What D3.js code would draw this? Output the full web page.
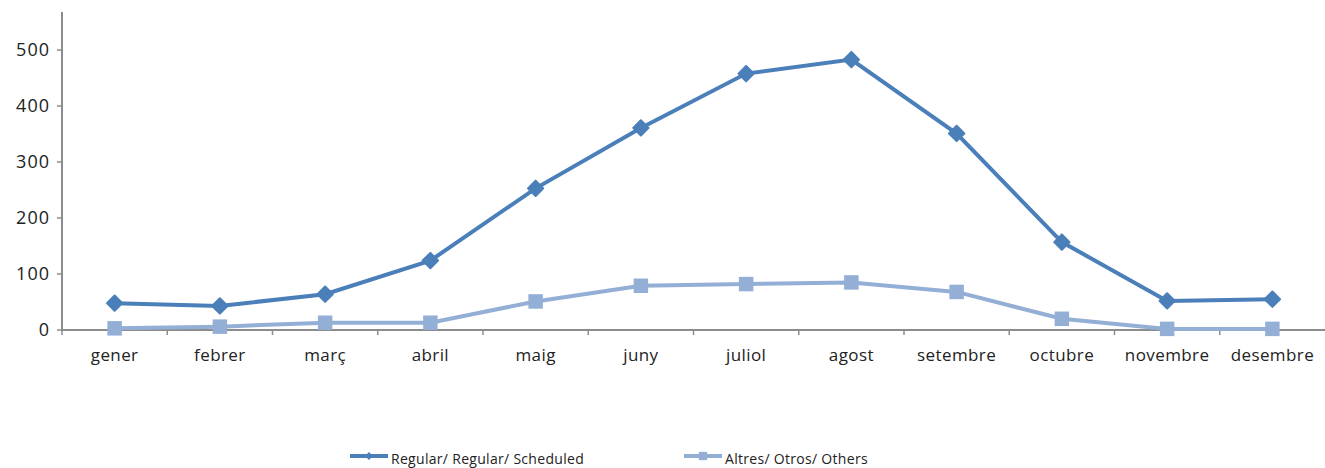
<!DOCTYPE html>
<html>
<head>
<meta charset="utf-8">
<script src="https://cdn.jsdelivr.net/npm/d3@7"></script>
<style>
  body { margin: 0; background: #fff; }
  svg text { font-family: "Open Sans", sans-serif; fill: #222; }
</style>
</head>
<body>
<div id="chart"></div>
<script>
const months = ['gener', 'febrer', 'març', 'abril', 'maig', 'juny', 'juliol', 'agost', 'setembre', 'octubre', 'novembre', 'desembre'];
const regular = [48, 43, 64, 124, 253, 361, 458, 483, 351, 157, 52, 55];
const others = [3, 6, 13, 13, 51, 79, 82, 85, 68, 20, 2, 2];
const seriesNames = ['Regular/ Regular/ Scheduled', 'Altres/ Otros/ Others'];
const yTicks = [0, 100, 200, 300, 400, 500];

const W = 1325, H = 468;
const margin = {top: 12, right: 0, bottom: 138, left: 62};
const width = W - margin.left - margin.right;
const height = H - margin.top - margin.bottom;

const colRegular = '#4a7fb9';
const colOthers = '#93afd6';

const svg = d3.select('#chart').append('svg')
    .attr('width', W)
    .attr('height', H);

const g = svg.append('g')
    .attr('transform', 'translate(' + margin.left + ',' + margin.top + ')');

const x = d3.scaleBand()
    .domain(months)
    .range([0, width]);

const y = d3.scaleLinear()
    .domain([0, 568])
    .range([height, 0]);

// x axis with ticks between categories
const xAxis = g.append('g')
    .attr('transform', 'translate(0,' + height + ')');
xAxis.append('line')
    .attr('x1', 0).attr('x2', width)
    .attr('stroke', '#8c8c8c').attr('stroke-width', 2);
xAxis.selectAll('.tk')
    .data(d3.range(months.length))
    .join('line')
    .attr('x1', i => x(months[i])).attr('x2', i => x(months[i]))
    .attr('y1', 0).attr('y2', 5)
    .attr('stroke', '#8c8c8c').attr('stroke-width', 1.5);
xAxis.selectAll('text')
    .data(months)
    .join('text')
    .attr('x', d => x(d) + x.bandwidth() / 2)
    .attr('y', 31)
    .attr('text-anchor', 'middle')
    .style('font-size', '17px')
    .style('letter-spacing', '0.4px')
    .text(d => d);

// y axis
const yAxis = g.append('g');
yAxis.append('line')
    .attr('y1', 0).attr('y2', height)
    .attr('stroke', '#8c8c8c').attr('stroke-width', 2);
yAxis.selectAll('.tk')
    .data(yTicks)
    .join('line')
    .attr('x1', -5).attr('x2', 0)
    .attr('y1', d => y(d)).attr('y2', d => y(d))
    .attr('stroke', '#8c8c8c').attr('stroke-width', 1.5);
yAxis.selectAll('text')
    .data(yTicks)
    .join('text')
    .attr('x', -12)
    .attr('y', d => y(d))
    .attr('dy', '0.35em')
    .attr('text-anchor', 'end')
    .style('font-size', '18px')
    .style('letter-spacing', '1px')
    .text(d => d);

const line = d3.line()
    .x((d, i) => x(months[i]) + x.bandwidth() / 2)
    .y(d => y(d));

const diamond = d3.symbol().type(d3.symbolDiamond2).size(150);
const square = d3.symbol().type(d3.symbolSquare).size(210);

// others series
g.append('path')
    .datum(others)
    .attr('d', line)
    .attr('fill', 'none')
    .attr('stroke', colOthers)
    .attr('stroke-width', 4);
g.selectAll('.sq')
    .data(others)
    .join('path')
    .attr('transform', (d, i) => 'translate(' + (x(months[i]) + x.bandwidth() / 2) + ',' + y(d) + ')')
    .attr('d', square)
    .attr('fill', colOthers);

// regular series
g.append('path')
    .datum(regular)
    .attr('d', line)
    .attr('fill', 'none')
    .attr('stroke', colRegular)
    .attr('stroke-width', 4);
g.selectAll('.dm')
    .data(regular)
    .join('path')
    .attr('transform', (d, i) => 'translate(' + (x(months[i]) + x.bandwidth() / 2) + ',' + y(d) + ')')
    .attr('d', diamond)
    .attr('fill', colRegular)
    .attr('stroke', colRegular)
    .attr('stroke-width', 2)
    .attr('stroke-linejoin', 'round');

// legend
const legend = svg.append('g').attr('transform', 'translate(0,456)');
const items = [
  {name: seriesNames[0], color: colRegular, sym: d3.symbol().type(d3.symbolDiamond2).size(40), x0: 350},
  {name: seriesNames[1], color: colOthers, sym: d3.symbol().type(d3.symbolSquare).size(70), x0: 684}
];
items.forEach(it => {
  legend.append('line')
      .attr('x1', it.x0).attr('x2', it.x0 + 38)
      .attr('stroke', it.color).attr('stroke-width', 4);
  legend.append('path')
      .attr('transform', 'translate(' + (it.x0 + 19) + ',0)')
      .attr('d', it.sym)
      .attr('fill', it.color);
  legend.append('text')
      .attr('x', it.x0 + 41)
      .attr('y', 8)
      .style('font-size', '14px')
      .style('letter-spacing', '0.3px')
      .text(it.name);
});
</script>
</body>
</html>
